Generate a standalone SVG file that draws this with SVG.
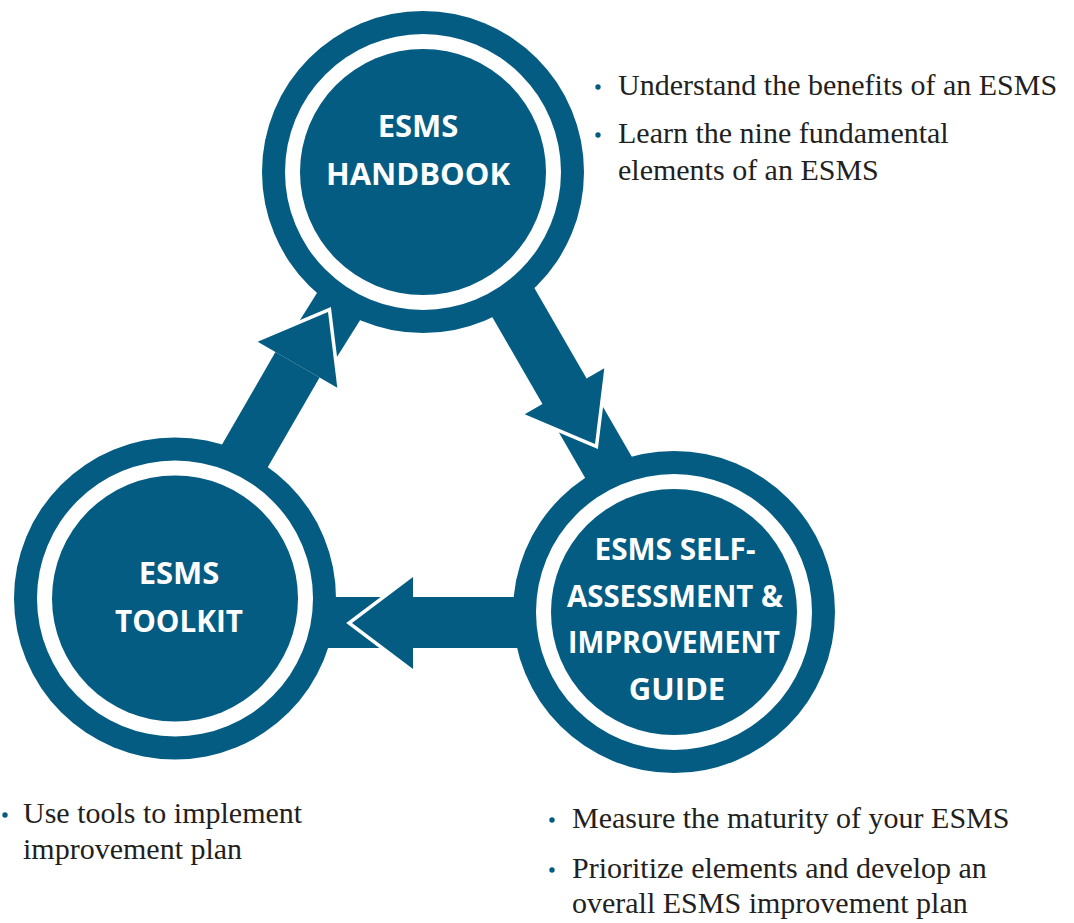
<svg xmlns="http://www.w3.org/2000/svg" width="1074" height="923" viewBox="0 0 1074 923">
  <style>
    .band { stroke: #045c82; stroke-width: 51; fill: none; stroke-linecap: butt; }
    .ring-outer { fill: #045c82; }
    .ring-gap { fill: #ffffff; }
    .disk { fill: #045c82; }
    .label { font-family: "Open Sans", "Noto Sans", "DejaVu Sans", sans-serif; font-weight: 700; font-size: 31px; fill: #ffffff; text-anchor: middle; }
    .head { fill: #045c82; }
    .head-edge { fill: none; stroke: #ffffff; stroke-width: 7; stroke-linejoin: miter; stroke-miterlimit: 10; }
    .note { font-family: "Liberation Serif", "Times New Roman", serif; font-size: 30px; fill: #231f20; }
    .dot { fill: #045c82; }
  </style>
  <rect width="1074" height="923" fill="#ffffff"/>

  <!-- connector bands (run underneath the circles) -->
  <g id="connectors">
    <line class="band" x1="177.5" y1="572.6" x2="297.5" y2="364.8"/>
    <line class="band" x1="305" y1="360" x2="423" y2="172"/>
    <line class="band" x1="444.5" y1="183.4" x2="659.5" y2="555.7"/>
    <line class="band" x1="674" y1="622.5" x2="175" y2="622.5"/>
  </g>

  <g id="node-handbook">
    <circle class="ring-outer" cx="423" cy="172" r="161"/>
    <circle class="ring-gap" cx="423" cy="172" r="138"/>
    <circle class="disk" cx="423" cy="172" r="123"/>
    <text class="label" x="418" y="137">ESMS</text>
    <text class="label" x="418" y="185">HANDBOOK</text>
  </g>

  <g id="node-toolkit">
    <circle class="ring-outer" cx="175" cy="598.5" r="161"/>
    <circle class="ring-gap" cx="175" cy="598.5" r="138"/>
    <circle class="disk" cx="175" cy="598.5" r="123"/>
    <text class="label" x="179" y="584">ESMS</text>
    <text class="label" x="179" y="632" textLength="128" lengthAdjust="spacingAndGlyphs">TOOLKIT</text>
  </g>

  <g id="node-guide">
    <circle class="ring-outer" cx="674" cy="612" r="161"/>
    <circle class="ring-gap" cx="674" cy="612" r="138"/>
    <circle class="disk" cx="674" cy="612" r="123"/>
    <text class="label" x="675" y="560" textLength="161" lengthAdjust="spacingAndGlyphs">ESMS SELF-</text>
    <text class="label" x="675" y="607" textLength="216" lengthAdjust="spacingAndGlyphs">ASSESSMENT &amp;</text>
    <text class="label" x="674" y="653" textLength="212" lengthAdjust="spacingAndGlyphs">IMPROVEMENT</text>
    <text class="label" x="677" y="700">GUIDE</text>
  </g>

  <!-- arrowheads with a white edge along the tip -->
  <g id="arrowheads">
    <polyline class="head-edge" points="257.7,341.8 328,312 337.3,387.8"/>
    <polygon class="head" points="257.7,341.8 328,312 337.3,387.8"/>
    <polyline class="head-edge" points="604.3,368.2 595,444 524.7,414.2"/>
    <polygon class="head" points="604.3,368.2 595,444 524.7,414.2"/>
    <polyline class="head-edge" points="413,577 352,623 413,669"/>
    <polygon class="head" points="413,577 352,623 413,669"/>
  </g>

  <g id="notes-handbook">
    <circle class="dot" cx="598" cy="87" r="2.7"/>
    <text class="note" x="618" y="95">Understand the benefits of an ESMS</text>
    <circle class="dot" cx="598" cy="135" r="2.7"/>
    <text class="note" x="618" y="143">Learn the nine fundamental</text>
    <text class="note" x="618" y="180">elements of an ESMS</text>
  </g>

  <g id="notes-toolkit">
    <circle class="dot" cx="5" cy="815" r="2.7"/>
    <text class="note" x="23" y="823">Use tools to implement</text>
    <text class="note" x="23" y="859">improvement plan</text>
  </g>

  <g id="notes-guide">
    <circle class="dot" cx="552" cy="820" r="2.7"/>
    <text class="note" x="572" y="828">Measure the maturity of your ESMS</text>
    <circle class="dot" cx="552" cy="870" r="2.7"/>
    <text class="note" x="572" y="878">Prioritize elements and develop an</text>
    <text class="note" x="572" y="913">overall ESMS improvement plan</text>
  </g>
</svg>
